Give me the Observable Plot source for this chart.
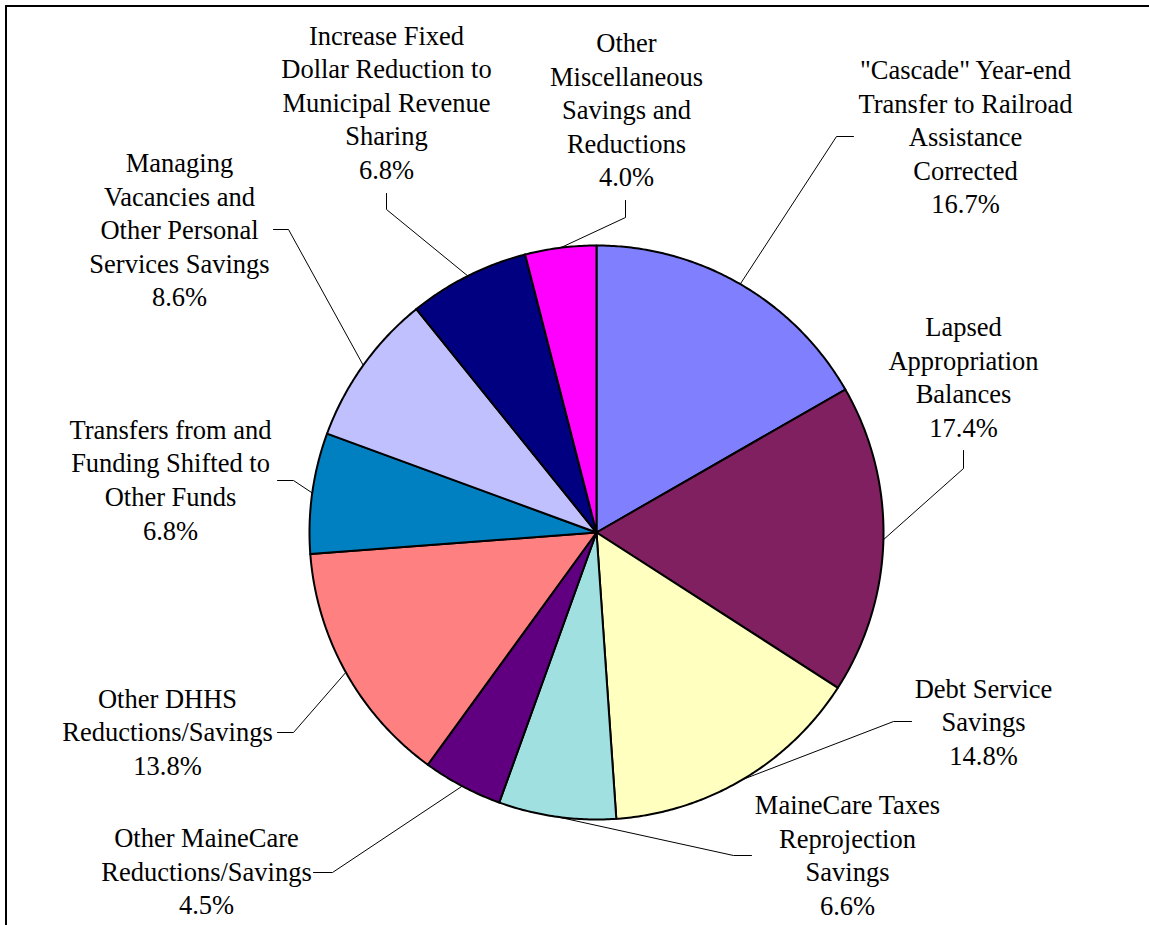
<!DOCTYPE html>
<html><head><meta charset="utf-8">
<script src="https://cdn.jsdelivr.net/npm/d3@7"></script>
<script src="https://cdn.jsdelivr.net/npm/@observablehq/plot@0.6"></script>
<style>
html,body{margin:0;padding:0;background:#fff;overflow:hidden}
#chart{position:relative;width:1149px;height:925px;overflow:hidden}
#chart svg{position:absolute;left:0;top:0}
#frame{position:absolute;left:5px;top:5px;width:1300px;height:1100px;border:2px solid #000;pointer-events:none}
</style></head><body>
<div id="chart"><div id="frame"></div></div>
<script>
// ---- data ----
const categories = [
  "\"Cascade\" Year-end\nTransfer to Railroad\nAssistance\nCorrected",
  "Lapsed\nAppropriation\nBalances",
  "Debt Service\nSavings",
  "MaineCare Taxes\nReprojection\nSavings",
  "Other MaineCare\nReductions/Savings",
  "Other DHHS\nReductions/Savings",
  "Transfers from and\nFunding Shifted to\nOther Funds",
  "Managing\nVacancies and\nOther Personal\nServices Savings",
  "Increase Fixed\nDollar Reduction to\nMunicipal Revenue\nSharing",
  "Other\nMiscellaneous\nSavings and\nReductions"
];
const values = [16.7, 17.4, 14.8, 6.6, 4.5, 13.8, 6.8, 8.6, 6.8, 4.0];

// ---- styles ----
const colors = ["#8080FF", "#802060", "#FFFFC0", "#A0E0E0", "#600080",
                "#FF8080", "#0080C0", "#C0C0FF", "#000080", "#FF00FF"];

// ---- layout (offsets from pie centre, y up) ----
const radius = 287;
const labelX  = [369, 367, 387, 251, -390, -429, -426, -417, -210, 30];
const labelY  = [395, 154.5, -190, -323.5, -339.5, -200, 52, 302, 429.5, 422];
const elbowX  = [240, 367, 297, 137, -264, -303, -303, -308, -210, 29];
const elbowY  = [396, 64, -189, -323, -340, -200, 52, 303, 323, 315];
const endX    = [257, 367, 315, 155, -283, -319, -319, -323, -210, 29];
const endY    = [396, 82, -189, -323, -340, -200, 52, 303, 339, 332];

const fmt = d3.format(".1f");
const arcs = d3.pie().sort(null).startAngle(0).endAngle(2 * Math.PI)(values);

const slices = arcs.map((a, i) => {
  const pts = [{x: 0, y: 0}];
  const n = Math.max(2, Math.ceil((a.endAngle - a.startAngle) / (Math.PI / 360)));
  for (let k = 0; k <= n; k++) {
    const t = a.startAngle + (a.endAngle - a.startAngle) * k / n;
    pts.push({x: radius * Math.sin(t), y: radius * Math.cos(t)});
  }
  return {pts, color: colors[i]};
});

const leaders = [];
arcs.forEach((a, i) => {
  const m = (a.startAngle + a.endAngle) / 2;
  leaders.push({k: i, x: radius * Math.sin(m), y: radius * Math.cos(m)});
  leaders.push({k: i, x: elbowX[i], y: elbowY[i]});
  leaders.push({k: i, x: endX[i], y: endY[i]});
});

const labels = categories.map((c, i) => ({
  text: c + "\n" + fmt(values[i]) + "%",
  x: labelX[i], y: labelY[i]
}));

const chart = Plot.plot({
  width: 1149,
  height: 925,
  margin: 0,
  x: {domain: [-596, 553], axis: null},
  y: {domain: [-393, 532], axis: null},
  style: {background: "transparent"},
  marks: [
    ...slices.map(s => Plot.line(s.pts, {
      x: "x", y: "y", fill: s.color, stroke: "#000", strokeWidth: 2,
      curve: "linear-closed", strokeLinejoin: "round"
    })),
    Plot.line(leaders, {x: "x", y: "y", z: "k", stroke: "#000", strokeWidth: 1}),
    Plot.text(labels, {
      x: "x", y: "y", text: "text", dy: -2,
      fontFamily: "Liberation Serif, Times New Roman, serif",
      fontSize: 26.5, lineHeight: 1.265,
      textAnchor: "middle", lineAnchor: "middle", fill: "#000"
    })
  ]
});
document.getElementById("chart").prepend(chart);
</script>
</body></html>
